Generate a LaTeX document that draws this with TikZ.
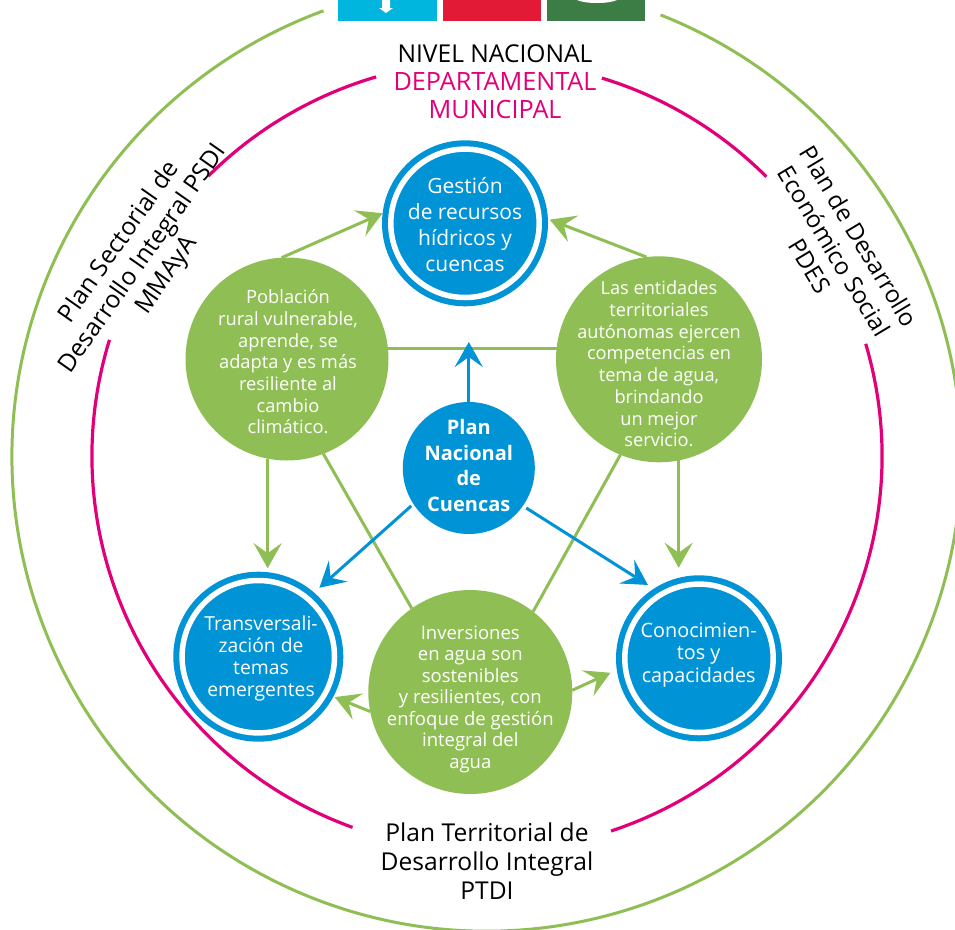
\documentclass[tikz,border=0pt]{standalone}
\usepackage{fontspec}
\setmainfont{Open Sans}
\usetikzlibrary{arrows.meta}
\definecolor{cblue}{HTML}{0093D6}
\definecolor{cgreen}{HTML}{8FBF54}
\definecolor{cmag}{HTML}{E2007A}
\definecolor{sdgblue}{HTML}{00B5DE}
\definecolor{sdgred}{HTML}{E21A36}
\definecolor{sdggreen}{HTML}{3B7D45}
\tikzset{
  x=1pt,y=1pt,
  disc/.style={circle,inner sep=0pt,outer sep=0pt,minimum size=2*#1 pt},
  greendisc/.style={disc=#1,fill=cgreen},
  bluedisc/.style={disc=#1,fill=cblue},
  ringdisc/.style={disc=#1,fill=cblue,path picture={\draw[white,line width=5.5pt] (path picture bounding box.center) circle ({#1-8.8});}},
  big/.style={font=\fontsize{24.6}{28.8}\selectfont,align=center,inner sep=0pt,text=black},
  wtxt/.style={align=center,inner sep=0pt,text=white},
  glink/.style={draw=cgreen,line width=3pt},
  garrow/.style={glink,-{Stealth[length=25pt,width=28pt,inset=10pt]}},
  barrow/.style={draw=cblue,line width=3pt,-{Stealth[length=25pt,width=28pt,inset=10pt]}},
  ringarc/.style={line width=3pt,draw=cgreen},
  magarc/.style={line width=3.2pt,draw=cmag}
}
\begin{document}
\begin{tikzpicture}
\clip (0,0) rectangle (955,-929);
\fill[white] (0,0) rectangle (955,-929);
% top squares
\fill[sdgblue] (338,0) rectangle (436.7,-21);
\fill[white] (382,0) -- (390,0) -- (390,-8) -- (393,-8) -- (386,-13) -- (379,-8) -- (382,-8) -- cycle;
\fill[sdgred] (443,0) rectangle (541.3,-21);
\fill[sdggreen] (546.7,0) rectangle (645,-21);
\fill[white] (577,0) .. controls (585,-4) and (609,-4) .. (617,0) -- cycle;
% rings
\coordinate (og) at (486.6,-456.5);
\coordinate (mg) at (487,-456);
\draw[ringarc] ([shift={(68.5:474.6)}]og) arc[start angle=68.5,end angle=-249.9,radius=474.6pt];
\draw[magarc] ([shift={(106.3:395)}]mg) arc[start angle=106.3,end angle=134.9,radius=395pt];
\draw[magarc] ([shift={(73.1:395)}]mg) arc[start angle=73.1,end angle=45,radius=395pt];
\draw[magarc] ([shift={(16.5:395)}]mg) arc[start angle=16.5,end angle=-71.7,radius=395pt];
\draw[magarc] ([shift={(162.9:395)}]mg) arc[start angle=162.9,end angle=250.1,radius=395pt];
% discs
\node[ringdisc=83] (top) at (465,-223.3) {};
\node[greendisc=101.5] (lg) at (287,-359) {};
\node[greendisc=103] (rg) at (659,-359.3) {};
\node[bluedisc=66] (pn) at (468.8,-468) {};
\node[ringdisc=85] (tr) at (258.3,-656.7) {};
\node[ringdisc=83] (co) at (699,-658.3) {};
\node[greendisc=102] (bg) at (470.3,-692) {};
% green links
\draw[glink] (lg.6.8) -- (lg.6.8 -| rg.173.2);
\draw[glink] (lg.-69.3) -- (bg.125);
\draw[glink] (rg.248.5) -- (bg.52.9);
\draw[garrow] (lg.93.15) -- (top.173.4);
\draw[garrow,shorten >=2pt] (rg.97.2) -- (top.3.8);
\draw[garrow,shorten >=4.3pt] (lg.259.8) -- (lg.259.8 |- tr.82.77);
\draw[garrow,shorten >=10pt] (rg.-79.5) -- (rg.-79.5 |- co.104.9);
\draw[garrow,shorten >=1.4pt] (bg.191.2) -- (tr.-28.8);
\draw[garrow,shorten >=7pt] (bg.1.1) -- (co.188.6);
% blue links
\coordinate (uptip) at (468.8,-342);
\draw[barrow] (pn.90) -- (uptip);
\draw[barrow,shorten <=3pt,shorten >=7.2pt] (pn.213) -- (tr.49.4);
\draw[barrow,shorten <=4pt,shorten >=7pt] (pn.-35) -- (co.123.7);
% disc texts
\node[wtxt,font=\fontsize{21}{26}\selectfont] (ttop) at (465,-225) {Gestión\\de recursos\\hídricos y\\cuencas};
\node[wtxt,font=\fontsize{18.3}{21.7}\selectfont] (tlg) at (288,-362) {Población\\rural vulnerable,\\aprende, se\\adapta y es más\\resiliente al\\cambio\\climático.};
\node[wtxt,font=\fontsize{18.2}{21.7}\selectfont] (trg) at (659,-364) {Las entidades\\territoriales\\autónomas ejercen\\competencias en\\tema de agua,\\brindando\\un mejor\\servicio.};
\node[wtxt,font=\fontsize{20}{25.7}\selectfont\bfseries] (tpn) at (468.8,-465.5) {Plan\\Nacional\\de\\Cuencas};
\node[wtxt,font=\fontsize{19.3}{22}\selectfont] (ttr) at (261,-658) {Transversali-\\zación de\\temas\\emergentes};
\node[wtxt,font=\fontsize{19.8}{22.3}\selectfont] (tco) at (698.7,-655) {Conocimien-\\tos y\\capacidades};
\node[wtxt,font=\fontsize{18.5}{21.5}\selectfont] (tbg) at (470.3,-699) {Inversiones\\en agua son\\sostenibles\\y resilientes, con\\enfoque de gestión\\integral del\\agua};
% outer labels
\node[big] (niv) at (495,-54) {NIVEL NACIONAL};
\node[big,text=cmag,font=\fontsize{25.2}{27.5}\selectfont] (dep) at (495,-95.5) {DEPARTAMENTAL\\MUNICIPAL};
\node[big] (ptd) at (487,-861) {Plan Territorial de\\Desarrollo Integral\\PTDI};
\node[big,rotate=55] (psd) at (143.5,-259) {Plan Sectorial de\\Desarrollo Integral PSDI\\MMAyA};
\node[big,rotate=-59,font=\fontsize{24}{28.8}\selectfont] (pde) at (834.5,-251) {Plan de Desarrollo\\Económico Social\\PDES};
\end{tikzpicture}
\end{document}
